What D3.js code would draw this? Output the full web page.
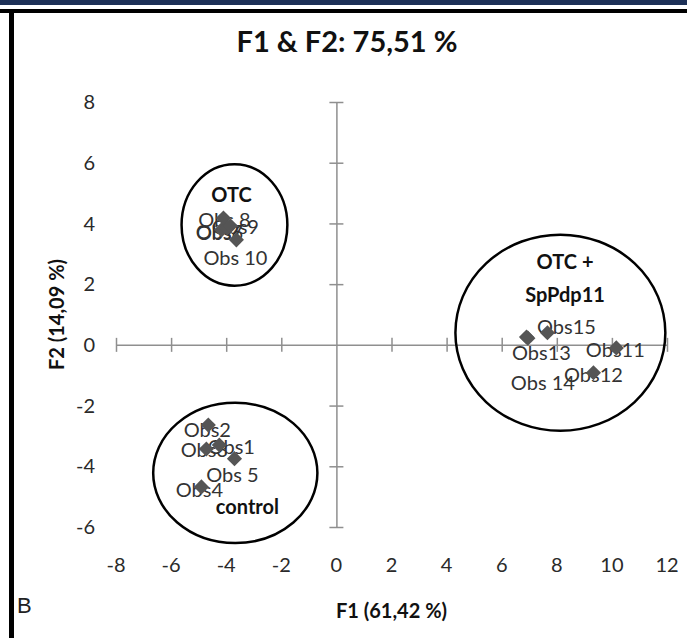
<!DOCTYPE html>
<html>
<head>
<meta charset="utf-8">
<script src="https://cdn.jsdelivr.net/npm/d3@7"></script>
<style>
  html, body { margin: 0; padding: 0; background: #fff; }
  svg { display: block; font-family: Lato, "Open Sans", sans-serif; }
</style>
</head>
<body>
<svg class="pca-plot"></svg>
<script>
obsNames  = ["Obs1", "Obs2", "Obs3", "Obs4", "Obs 5", "Obs6", "Obs7", "Obs 8", "Obs9", "Obs 10",
             "Obs11", "Obs12", "Obs13", "Obs 14", "Obs15"];
obsF1     = [-4.25, -4.65, -4.72, -4.90, -3.70, -4.17, -3.96, -4.10, -3.85, -3.63,
             10.16, 9.33, 6.90, 6.95, 7.66];
obsF2     = [-3.30, -2.64, -3.43, -4.68, -3.75, 3.79, 3.85, 4.18, 3.92, 3.46,
             -0.10, -0.92, 0.26, 0.22, 0.40];

// groups circled on the plot
groupNames = [["OTC"], ["OTC +", "SpPdp11"], ["control"]];
groupF1    = [-3.70, 8.13, -3.67];
groupF2    = [3.95, 0.40, -4.22];
groupRadF1 = [1.92, 3.81, 2.98];
groupRadF2 = [2.00, 3.23, 2.31];

xTicks = [-8, -6, -4, -2, 0, 2, 4, 6, 8, 10, 12];
yTicks = [-6, -4, -2, 0, 2, 4, 6, 8];

TITLE = "F1 & F2: 75,51 %";
X_TITLE = "F1 (61,42 %)";
Y_TITLE = "F2 (14,09 %)";

WIDTH = 687;
HEIGHT = 638;
PLOT = {left: 116, right: 667, top: 102, bottom: 527};

// where each point's label sits relative to the point (px)
LABEL_OFFSETS = [[12, 2], [-1, 5], [-2, 1], [-2, 3], [-2, 16], [-2, 3], [-8, 4], [1, 2], [5, 1], [-1, 18],
                 [-1, 2], [0, 2], [15, 16], [15, 45], [19, -6]];
// group title anchors, data units
GROUP_LABEL_AT = [[-3.81, 4.94], [8.30, 2.20], [-3.23, -5.34]];

AXIS_GREY = "#8f8f8f";

function buildChart() {
    svg = d3.select(".pca-plot").attr("width", WIDTH).attr("height", HEIGHT);
    addFrame(svg);
    x = d3.scaleLinear().domain([-8, 12]).range([PLOT.left, PLOT.right]);
    y = d3.scaleLinear().domain([-6, 8]).range([PLOT.bottom, PLOT.top]);
    addCrossAxes(svg, x, y);
    addTickLabels(svg, x, y);
    addEllipses(svg, x, y);
    addPoints(svg, x, y);
    addTitles(svg);
}

function addFrame(svg) {
    svg.append("rect").attr("x", 0).attr("y", 0).attr("width", WIDTH).attr("height", 5)
        .attr("fill", "#1d3158");
    svg.append("rect").attr("x", 0).attr("y", 9).attr("width", WIDTH).attr("height", 4)
        .attr("fill", "#000");
    svg.append("rect").attr("x", 9).attr("y", 9).attr("width", 5).attr("height", HEIGHT - 9)
        .attr("fill", "#000");
    svg.append("text")
        .attr("x", 17).attr("y", 613)
        .attr("font-family", "Liberation Sans, Arial, sans-serif")
        .attr("font-size", 22)
        .attr("fill", "#222")
        .text("B");
}

function addCrossAxes(svg, x, y) {
    hAxis = svg.append("g")
        .attr("transform", "translate(0," + y(0) + ")")
        .call(d3.axisBottom(x).tickValues(xTicks.filter(function(d) { return d !== 0; }))
            .tickSize(7).tickSizeOuter(0).tickFormat(""));
    hAxis.selectAll(".tick line").attr("y1", -7);

    vAxis = svg.append("g")
        .attr("transform", "translate(" + x(0) + ",0)")
        .call(d3.axisLeft(y).tickValues(yTicks.filter(function(d) { return d !== 0; }))
            .tickSize(7).tickSizeOuter(0).tickFormat(""));
    vAxis.selectAll(".tick line").attr("x1", 7);

    svg.selectAll(".domain, .tick line")
        .attr("stroke", AXIS_GREY)
        .attr("stroke-width", 1.5);
}

function addTickLabels(svg, x, y) {
    svg.append("g").selectAll("text")
        .data(xTicks)
        .enter().append("text")
        .attr("x", function(d) { return x(d); })
        .attr("y", 572)
        .attr("text-anchor", "middle")
        .attr("font-size", 20)
        .attr("fill", "#2a2a2a")
        .text(function(d) { return d; });

    svg.append("g").selectAll("text")
        .data(yTicks)
        .enter().append("text")
        .attr("x", 95)
        .attr("y", function(d) { return y(d); })
        .attr("dy", "0.36em")
        .attr("text-anchor", "end")
        .attr("font-size", 20)
        .attr("fill", "#2a2a2a")
        .text(function(d) { return d; });
}

function addEllipses(svg, x, y) {
    svg.append("g").selectAll("ellipse")
        .data(groupNames)
        .enter().append("ellipse")
        .attr("cx", function(d, i) { return x(groupF1[i]); })
        .attr("cy", function(d, i) { return y(groupF2[i]); })
        .attr("rx", function(d, i) { return x(groupRadF1[i]) - x(0); })
        .attr("ry", function(d, i) { return y(0) - y(groupRadF2[i]); })
        .attr("fill", "none")
        .attr("stroke", "#000")
        .attr("stroke-width", 2.5);

    labels = svg.append("g").selectAll("text")
        .data(groupNames)
        .enter().append("text")
        .attr("x", function(d, i) { return x(GROUP_LABEL_AT[i][0]); })
        .attr("y", function(d, i) { return y(GROUP_LABEL_AT[i][1]); })
        .attr("text-anchor", "middle")
        .attr("font-size", 20)
        .attr("font-weight", "bold")
        .attr("fill", "#111");
    labels.each(function(d) {
        var t = d3.select(this);
        var startDy = -(d.length - 1) * 0.5 * 1.65;
        d.forEach(function(line, k) {
            t.append("tspan")
                .attr("x", t.attr("x"))
                .attr("dy", (k === 0 ? startDy + 0.36 : 1.65) + "em")
                .text(line);
        });
    });
}

function addPoints(svg, x, y) {
    svg.append("g").selectAll("text")
        .data(obsNames)
        .enter().append("text")
        .attr("x", function(d, i) { return x(obsF1[i]) + LABEL_OFFSETS[i][0]; })
        .attr("y", function(d, i) { return y(obsF2[i]) + LABEL_OFFSETS[i][1]; })
        .attr("dy", "0.36em")
        .attr("text-anchor", "middle")
        .attr("font-size", 20)
        .attr("fill", "#333")
        .text(function(d) { return d; });

    diamond = d3.symbol().type(d3.symbolSquare).size(115);
    svg.append("g").selectAll("path")
        .data(obsNames)
        .enter().append("path")
        .attr("d", diamond)
        .attr("transform", function(d, i) {
            return "translate(" + x(obsF1[i]) + "," + y(obsF2[i]) + ") rotate(45)";
        })
        .attr("fill", "#555");
}

function addTitles(svg) {
    svg.append("text")
        .attr("x", 347).attr("y", 52)
        .attr("text-anchor", "middle")
        .attr("font-size", 29)
        .attr("font-weight", "bold")
        .attr("fill", "#111")
        .text(TITLE);

    svg.append("text")
        .attr("x", (PLOT.left + PLOT.right) / 2).attr("y", 618)
        .attr("text-anchor", "middle")
        .attr("font-size", 20)
        .attr("font-weight", "bold")
        .attr("fill", "#111")
        .text(X_TITLE);

    svg.append("text")
        .attr("transform", "translate(64," + (PLOT.top + PLOT.bottom) / 2 + ") rotate(-90)")
        .attr("text-anchor", "middle")
        .attr("font-size", 20)
        .attr("font-weight", "bold")
        .attr("fill", "#111")
        .text(Y_TITLE);
}

buildChart();
</script>
</body>
</html>
